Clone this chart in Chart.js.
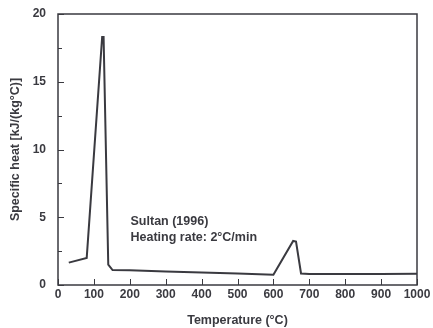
<!DOCTYPE html>
<html>
<head>
<meta charset="utf-8">
<script src="https://cdn.jsdelivr.net/npm/chart.js@4"></script>
<style>
  html, body { margin: 0; padding: 0; background: #ffffff; }
  #wrap { width: 433px; height: 328px; }
</style>
</head>
<body>
<div id="wrap"><canvas id="c" width="433" height="328"></canvas></div>
<script>
// Specific heat of the sample vs temperature
const temperatures = [30, 80, 123, 127, 140, 152, 200, 300, 400, 500, 600, 655, 663, 677, 700, 800, 900, 1000];
const specificHeat = [1.65, 2.0, 18.3, 18.3, 1.5, 1.1, 1.08, 1.0, 0.92, 0.85, 0.75, 3.25, 3.2, 0.85, 0.82, 0.82, 0.82, 0.83];

const xTicks = [0, 100, 200, 300, 400, 500, 600, 700, 800, 900, 1000];
const yTicks = [0, 5, 10, 15, 20];
const yMinorTicks = [2.5, 7.5, 12.5, 17.5];

const noteLines = ['Sultan (1996)', 'Heating rate: 2°C/min'];
const notePos = { x: 202, y: [4.7, 3.5] };

const ink = '#3a3a40';
const font = 'Arial, "Liberation Sans", sans-serif';

// Frame, inward ticks and the source note
const framePlugin = {
  id: 'frame',
  afterDraw(chart) {
    const { ctx, chartArea: a, scales: { x, y } } = chart;
    ctx.save();
    ctx.strokeStyle = ink;
    ctx.lineWidth = 1.5;
    ctx.strokeRect(a.left, a.top, a.right - a.left, a.bottom - a.top);

    ctx.lineWidth = 1;
    xTicks.forEach(v => {
      const px = Math.round(x.getPixelForValue(v)) + 0.5;
      ctx.beginPath();
      ctx.moveTo(px, a.bottom);
      ctx.lineTo(px, a.bottom - 6);
      ctx.stroke();
    });
    yTicks.forEach(v => {
      const py = Math.round(y.getPixelForValue(v)) + 0.5;
      ctx.beginPath();
      ctx.moveTo(a.left, py);
      ctx.lineTo(a.left + 6, py);
      ctx.stroke();
    });
    yMinorTicks.forEach(v => {
      const py = Math.round(y.getPixelForValue(v)) + 0.5;
      ctx.beginPath();
      ctx.moveTo(a.left, py);
      ctx.lineTo(a.left + 4, py);
      ctx.stroke();
    });

    ctx.fillStyle = ink;
    ctx.font = 'bold 12.5px ' + font;
    ctx.textAlign = 'left';
    ctx.textBaseline = 'middle';
    noteLines.forEach((t, i) => {
      ctx.fillText(t, x.getPixelForValue(notePos.x), y.getPixelForValue(notePos.y[i]));
    });
    ctx.restore();
  }
};

new Chart(document.getElementById('c'), {
  type: 'scatter',
  data: {
    datasets: [{
      data: temperatures.map((t, i) => ({ x: t, y: specificHeat[i] })),
      showLine: true,
      borderColor: ink,
      borderWidth: 2,
      pointRadius: 0,
      tension: 0,
      fill: false
    }]
  },
  options: {
    responsive: false,
    animation: false,
    events: [],
    layout: { padding: { left: 8, top: 14, right: 16, bottom: 0 } },
    plugins: { legend: { display: false }, tooltip: { enabled: false } },
    scales: {
      x: {
        type: 'linear',
        min: 0, max: 1000,
        afterBuildTicks: s => { s.ticks = xTicks.map(v => ({ value: v })); },
        afterFit: s => { s.height = 43; s.paddingLeft = 0; s.paddingRight = 0; },
        grid: { display: false, drawTicks: false },
        border: { display: false },
        ticks: {
          color: ink, padding: 2,
          font: { family: font, size: 12, weight: 'bold' },
          maxRotation: 0, autoSkip: false,
          callback: v => String(v)
        },
        title: {
          display: true, text: 'Temperature (°C)', color: ink,
          font: { family: font, size: 12.5, weight: 'bold' },
          padding: { top: 5, bottom: 0 }
        }
      },
      y: {
        min: 0, max: 20,
        afterBuildTicks: s => { s.ticks = yTicks.map(v => ({ value: v })); },
        afterFit: s => { s.width = 50; s.paddingTop = 0; s.paddingBottom = 0; },
        grid: { display: false, drawTicks: false },
        border: { display: false },
        ticks: {
          color: ink, padding: 12,
          font: { family: font, size: 12, weight: 'bold' },
          callback: v => String(v)
        },
        title: {
          display: true, text: 'Specific heat [kJ/(kg°C)]', color: ink,
          font: { family: font, size: 12.5, weight: 'bold' },
          padding: { top: 0, bottom: 4 }
        }
      }
    }
  },
  plugins: [framePlugin]
});
</script>
</body>
</html>
